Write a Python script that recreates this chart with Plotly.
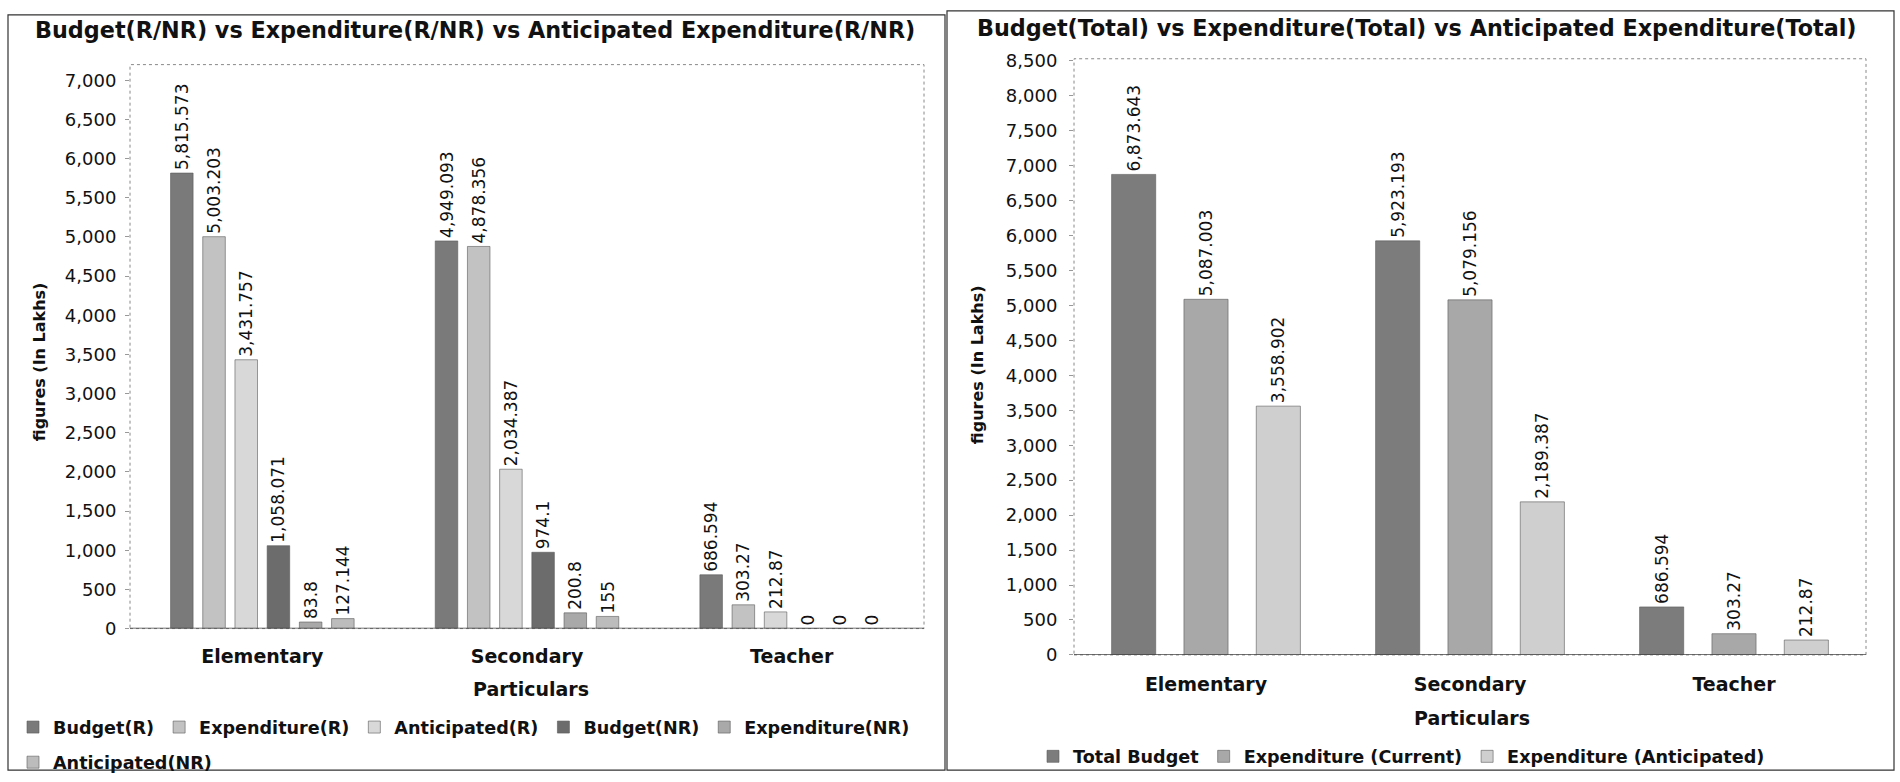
import plotly.graph_objects as go

# ---------------- data ----------------
categories = ["Elementary", "Secondary", "Teacher"]

left_series = ["Budget(R)", "Expenditure(R)", "Anticipated(R)",
               "Budget(NR)", "Expenditure(NR)", "Anticipated(NR)"]
budget_r = [5815.573, 4949.093, 686.594]
expenditure_r = [5003.203, 4878.356, 303.27]
anticipated_r = [3431.757, 2034.387, 212.87]
budget_nr = [1058.071, 974.1, 0]
expenditure_nr = [83.8, 200.8, 0]
anticipated_nr = [127.144, 155, 0]
left_values = [budget_r, expenditure_r, anticipated_r,
               budget_nr, expenditure_nr, anticipated_nr]
left_colors = ["#7a7a7a", "#c2c2c2", "#d8d8d8", "#6c6c6c", "#a9a9a9", "#bcbcbc"]

right_series = ["Total Budget", "Expenditure (Current)", "Expenditure (Anticipated)"]
total_budget = [6873.643, 5923.193, 686.594]
expenditure_current = [5087.003, 5079.156, 303.27]
expenditure_anticipated = [3558.902, 2189.387, 212.87]
right_values = [total_budget, expenditure_current, expenditure_anticipated]
right_colors = ["#7c7c7c", "#a8a8a8", "#cfcfcf"]

left_title = "Budget(R/NR) vs Expenditure(R/NR) vs Anticipated Expenditure(R/NR)"
right_title = "Budget(Total) vs Expenditure(Total) vs Anticipated Expenditure(Total)"
y_title = "figures (In Lakhs)"
x_title = "Particulars"

FONT = "DejaVu Sans"
W, H = 1900, 782


def fmt(v):
    return f"{v:,.3f}".rstrip("0").rstrip(".")


fig = go.Figure()

for i, (name, vals, col) in enumerate(zip(left_series, left_values, left_colors)):
    fig.add_trace(go.Bar(
        x=categories, y=vals, name=name,
        marker=dict(color=col, line=dict(color="#5a5a5a", width=0.6)),
        text=[fmt(v) for v in vals], textposition="outside", textangle=-90,
        textfont=dict(family=FONT, size=17, color="#111"), constraintext="none",
        cliponaxis=False, xaxis="x", yaxis="y",
        legend="legend3" if i == 5 else "legend",
    ))

n_r = len(right_series)
slot = 0.274
for k, (name, vals, col) in enumerate(zip(right_series, right_values, right_colors)):
    fig.add_trace(go.Bar(
        x=categories, y=vals, name=name,
        marker=dict(color=col, line=dict(color="#5a5a5a", width=0.6)),
        text=[fmt(v) for v in vals], textposition="outside", textangle=-90,
        textfont=dict(family=FONT, size=17, color="#111"), constraintext="none",
        cliponaxis=False, xaxis="x2", yaxis="y2",
        width=slot * 0.61, offset=(k - n_r / 2) * slot + slot * (1 - 0.61) / 2,
        legend="legend2",
    ))


def px_x(p):
    return p / W


def px_y(p):
    return 1 - p / H


axis_common = dict(showgrid=False, zeroline=False, showline=False)
leg_font = dict(family=FONT, size=17.6, color="#111", weight="bold")
cat_font = dict(family=FONT, size=19, color="#111", weight="bold")
tick_font = dict(family=FONT, size=18, color="#111")

fig.update_layout(
    width=W, height=H, autosize=False,
    margin=dict(l=0, r=0, t=0, b=0),
    paper_bgcolor="white", plot_bgcolor="white",
    barmode="group", bargap=0.27, bargroupgap=0.3,
    showlegend=True,
    font=dict(family=FONT, color="#111"),
    xaxis=dict(domain=[px_x(130), px_x(924)], anchor="y", range=[-0.5, 2.5],
               ticks="", tickfont=cat_font, ticklabelstandoff=14, **axis_common),
    yaxis=dict(domain=[px_y(635), px_y(57)], anchor="x", range=[0, 7200],
               tickvals=list(range(0, 7001, 500)), tickformat=",d",
               ticks="outside", ticklen=4, tickcolor="#999",
               tickfont=tick_font, ticklabelstandoff=5, **axis_common),
    xaxis2=dict(domain=[px_x(1074), px_x(1866)], anchor="y2", range=[-0.5, 2.5],
                ticks="", tickfont=cat_font, ticklabelstandoff=16, **axis_common),
    yaxis2=dict(domain=[px_y(662), px_y(51)], anchor="x2", range=[0, 8528],
                tickvals=list(range(0, 8501, 500)), tickformat=",d",
                ticks="outside", ticklen=4, tickcolor="#999",
                tickfont=tick_font, ticklabelstandoff=8, **axis_common),
    legend=dict(orientation="h", x=px_x(13), y=px_y(736), xanchor="left", yanchor="middle",
                font=leg_font, bgcolor="rgba(0,0,0,0)"),
    legend3=dict(orientation="h", x=px_x(13), y=px_y(772), xanchor="left", yanchor="middle",
                 font=leg_font, bgcolor="rgba(0,0,0,0)"),
    legend2=dict(orientation="h", x=px_x(1033), y=px_y(766), xanchor="left", yanchor="middle",
                 font=leg_font, bgcolor="rgba(0,0,0,0)"),
)

anns = []
for txt, x, y in [(left_title, 475, 22), (right_title, 1417, 19)]:
    anns.append(dict(text=txt, x=px_x(x), y=px_y(y), xref="paper", yref="paper",
                     xanchor="center", yanchor="middle", showarrow=False,
                     font=dict(family=FONT, size=22.3, color="#111", weight="bold")))
for x, y in [(531, 697), (1472, 727)]:
    anns.append(dict(text=x_title, x=px_x(x), y=px_y(y), xref="paper", yref="paper",
                     xanchor="center", yanchor="middle", showarrow=False,
                     font=dict(family=FONT, size=19, color="#111", weight="bold")))
for x, y in [(39, 362), (977, 365)]:
    anns.append(dict(text=y_title, x=px_x(x), y=px_y(y), xref="paper", yref="paper",
                     xanchor="center", yanchor="middle", showarrow=False, textangle=-90,
                     font=dict(family=FONT, size=16, color="#111", weight="bold")))
fig.update_layout(annotations=anns)

shapes = [
    # outer frames
    dict(type="rect", xref="paper", yref="paper", x0=px_x(8), x1=px_x(945), y0=px_y(780), y1=px_y(6),
         line=dict(color="#333", width=1.2), fillcolor="rgba(0,0,0,0)", layer="below"),
    dict(type="rect", xref="paper", yref="paper", x0=px_x(947), x1=px_x(1894), y0=px_y(780), y1=px_y(2),
         line=dict(color="#333", width=1.2), fillcolor="rgba(0,0,0,0)", layer="below"),
    # dotted plot-area frames
    dict(type="rect", xref="x domain", yref="y domain", x0=0, x1=1, y0=0, y1=1,
         line=dict(color="#888", width=1, dash="dot"), layer="below"),
    dict(type="rect", xref="x2 domain", yref="y2 domain", x0=0, x1=1, y0=0, y1=1,
         line=dict(color="#888", width=1, dash="dot"), layer="below"),
    # base lines
    dict(type="line", xref="x domain", yref="y", x0=0, x1=1, y0=0, y1=0,
         line=dict(color="#444", width=1.5)),
    dict(type="line", xref="x2 domain", yref="y2", x0=0, x1=1, y0=0, y1=0,
         line=dict(color="#444", width=1.5)),
]
fig.update_layout(shapes=shapes)

fig.write_html("out.html")
